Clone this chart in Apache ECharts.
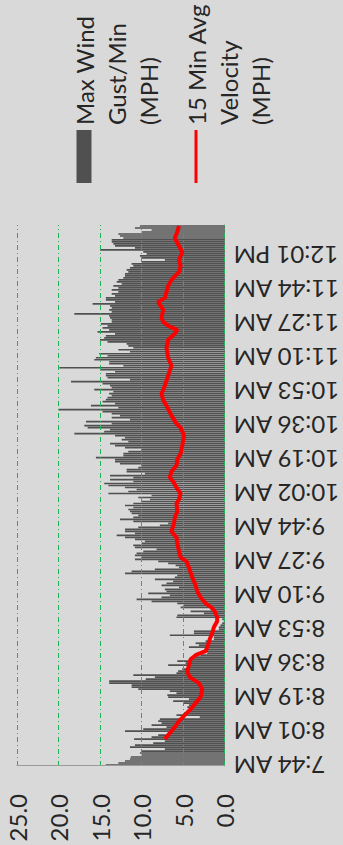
<!DOCTYPE html>
<html>
<head>
<meta charset="utf-8">
<script src="https://cdn.jsdelivr.net/npm/echarts@6/dist/echarts.min.js"></script>
<style>
  html, body { margin:0; padding:0; width:343px; height:845px; overflow:hidden; background:#d9d9d9; }
  #wrap { position:absolute; left:0; top:0; width:845px; height:343px; transform-origin:0 0; transform:translate(0,845px) rotate(-90deg); }
</style>
</head>
<body>
<div id="wrap"></div>
<script>
// Tick labels shown every 17 samples along the time axis
const tickLabels = ["7:44 AM","8:01 AM","8:19 AM","8:36 AM","8:53 AM","9:10 AM","9:27 AM","9:44 AM",
  "10:02 AM","10:19 AM","10:36 AM","10:53 AM","11:10 AM","11:27 AM","11:44 AM","12:01 PM"];
const labelStep = 17;

// Max wind gust per minute (MPH), one value per sample
const gust = [
  14.3,12.8,12.0,11.4,11.3,10.0,10.2,10.0,7.2,11.4,
  10.8,8.6,7.2,10.9,8.8,8.0,6.8,12.0,9.8,7.0,
  8.8,7.6,8.0,7.8,3.0,5.8,4.9,4.5,3.9,4.5,
  4.3,4.9,6.2,4.3,6.8,6.9,5.8,6.6,10.4,11.2,
  11.2,13.9,13.9,9.5,8.4,11.0,5.8,5.6,5.1,4.3,
  6.8,4.7,5.7,4.1,3.5,2.9,2.1,2.7,2.1,4.3,
  3.1,3.5,2.3,1.3,1.3,6.6,3.7,3.7,0.7,0.7,
  0.5,0.3,0.1,0.3,5.8,5.7,2.5,4.1,1.7,5.3,
  4.9,5.7,8.8,10.6,7.6,6.6,9.2,7.0,7.2,5.5,
  7.6,7.0,6.2,8.4,6.0,5.7,12.0,11.2,8.4,5.5,
  5.9,6.8,8.0,10.8,10.0,10.8,10.6,9.8,8.2,10.8,
  11.0,10.0,9.6,10.8,12.0,13.0,10.8,12.0,12.0,10.4,
  7.8,6.8,11.0,12.6,11.0,10.4,11.2,11.4,11.6,11.0,
  12.0,11.0,10.0,9.0,10.4,8.8,14.0,11.6,10.6,12.0,
  14.0,14.5,11.0,13.8,11.0,13.8,9.6,11.8,11.8,10.4,
  10.0,12.6,13.2,13.2,15.5,12.2,12.2,11.6,10.0,12.0,
  13.2,13.8,11.6,12.4,12.0,13.2,18.1,14.5,13.8,16.5,
  16.9,13.6,16.7,11.4,13.6,12.6,13.6,14.7,20.0,12.8,
  16.1,13.2,14.7,14.3,14.1,13.6,13.9,13.4,15.7,13.6,
  13.8,14.7,18.5,11.4,14.1,14.3,14.3,13.2,15.0,19.9,
  12.2,13.9,13.9,15.7,15.5,14.1,15.1,11.4,12.8,11.0,
  11.6,11.8,14.1,15.0,14.5,14.3,13.2,15.3,13.9,14.7,
  14.1,14.9,13.6,13.6,13.8,13.9,18.1,13.6,13.9,13.6,
  13.8,15.9,13.2,14.3,14.3,13.2,13.6,12.8,13.6,12.8,
  13.4,12.4,13.0,12.8,12.2,12.0,12.0,11.6,11.8,11.4,
  11.0,11.2,10.0,7.2,10.0,10.2,9.4,9.8,15.0,10.8,
  13.2,13.4,13.6,13.6,12.2,12.6,12.8,10.0,8.8,10.8,
  10.2
];

// 15 minute average velocity (MPH): sample index and value
const avgIdx = [13,16,19,22,25,28,31,34,38,41,44,47,50,53,55,57,60,63,66,69,72,74,77,79,81,84,87,90,94,99,
  102,104,107,111,114,117,121,124,127,131,133,136,139,142,144,147,150,153,156,160,165,169,171,175,180,183,186,190,195,
  200,204,209,213,216,218,220,222,224,228,232,234,240,243,247,250,253,257,260,264,267,270];
const avgVal = [7.2,6.6,6.0,5.5,4.8,4.1,3.5,2.9,2.7,3.1,4.2,4.5,4.3,4.1,3.5,2.3,2.0,1.8,1.5,1.3,0.9,0.9,1.2,1.6,2.3,2.9,3.3,3.5,3.9,4.3,
  4.6,5.3,5.5,5.7,5.8,6.4,6.1,6.0,5.7,5.8,5.5,5.3,5.8,6.2,6.6,6.4,5.8,5.7,5.3,5.1,4.9,5.3,5.8,6.4,7.0,7.4,7.6,7.2,6.8,
  6.4,6.8,7.0,6.8,6.0,5.7,6.8,7.4,7.6,7.4,8.0,7.2,6.8,6.4,5.5,5.3,5.5,5.1,5.5,6.0,5.7,5.5];

const seriesNames = ["Max Wind\nGust/Min\n(MPH)", "15 Min Avg\nVelocity\n(MPH)"];

const categories = gust.map((_, i) => String(i));
const avgData = avgIdx.map((k, j) => [k, avgVal[j]]);

const FONT = "Lato, 'Liberation Sans', sans-serif";
const chart = echarts.init(document.getElementById('wrap'), null, { renderer: 'svg', width: 845, height: 343 });

// legend text: first line aligned with the icon (two blank lines before keep the block centred)
const legendFmt = name => '\n\n' + name;
const legendText = { fontFamily: FONT, fontSize: 24, lineHeight: 32, color: '#262626' };

chart.setOption({
  backgroundColor: '#d9d9d9',
  animation: false,
  legend: [
    { orient: 'vertical', left: 662, top: 4, padding: 0, itemWidth: 53, itemHeight: 15,
      formatter: legendFmt, textStyle: legendText,
      data: [{ name: seriesNames[0], icon: 'rect' }] },
    { orient: 'vertical', left: 662, top: 116, padding: 0, itemWidth: 53, itemHeight: 3,
      formatter: legendFmt, textStyle: legendText,
      data: [{ name: seriesNames[1], icon: 'rect', itemStyle: { color: '#ff0000' } }] }
  ],
  grid: { left: 79, right: 225, top: 17, bottom: 117, containLabel: false },
  xAxis: {
    type: 'category',
    data: categories,
    boundaryGap: true,
    axisLine: { show: true, lineStyle: { color: '#8c8c8c', width: 1 } },
    axisTick: { show: false },
    axisLabel: {
      interval: labelStep - 1,
      rotate: 90,
      margin: 9,
      fontFamily: FONT, fontSize: 24, color: '#262626',
      formatter: (v, i) => tickLabels[Math.round(i / labelStep)] || ''
    },
    splitLine: { show: false }
  },
  yAxis: {
    type: 'value',
    z: 3,
    min: 0, max: 25, interval: 5,
    axisLine: { show: true, lineStyle: { color: '#9a9a9a', width: 1 } },
    axisTick: { show: false },
    axisLabel: {
      margin: 28,
      fontFamily: FONT, fontSize: 24, color: '#262626',
      formatter: v => v.toFixed(1)
    },
    splitLine: { show: true, lineStyle: { color: '#1fb257', width: 1, type: [5, 3, 1, 3] } }
  },
  series: [
    {
      name: seriesNames[0],
      type: 'bar',
      data: gust,
      barCategoryGap: '15%',
      itemStyle: { color: '#505050' },
      z: 2
    },
    {
      name: seriesNames[1],
      type: 'line',
      data: avgData,
      symbol: 'none',
      showSymbol: false,
      lineStyle: { color: '#ff0000', width: 4 },
      itemStyle: { color: '#ff0000' },
      z: 5
    }
  ]
});
</script>
</body>
</html>
